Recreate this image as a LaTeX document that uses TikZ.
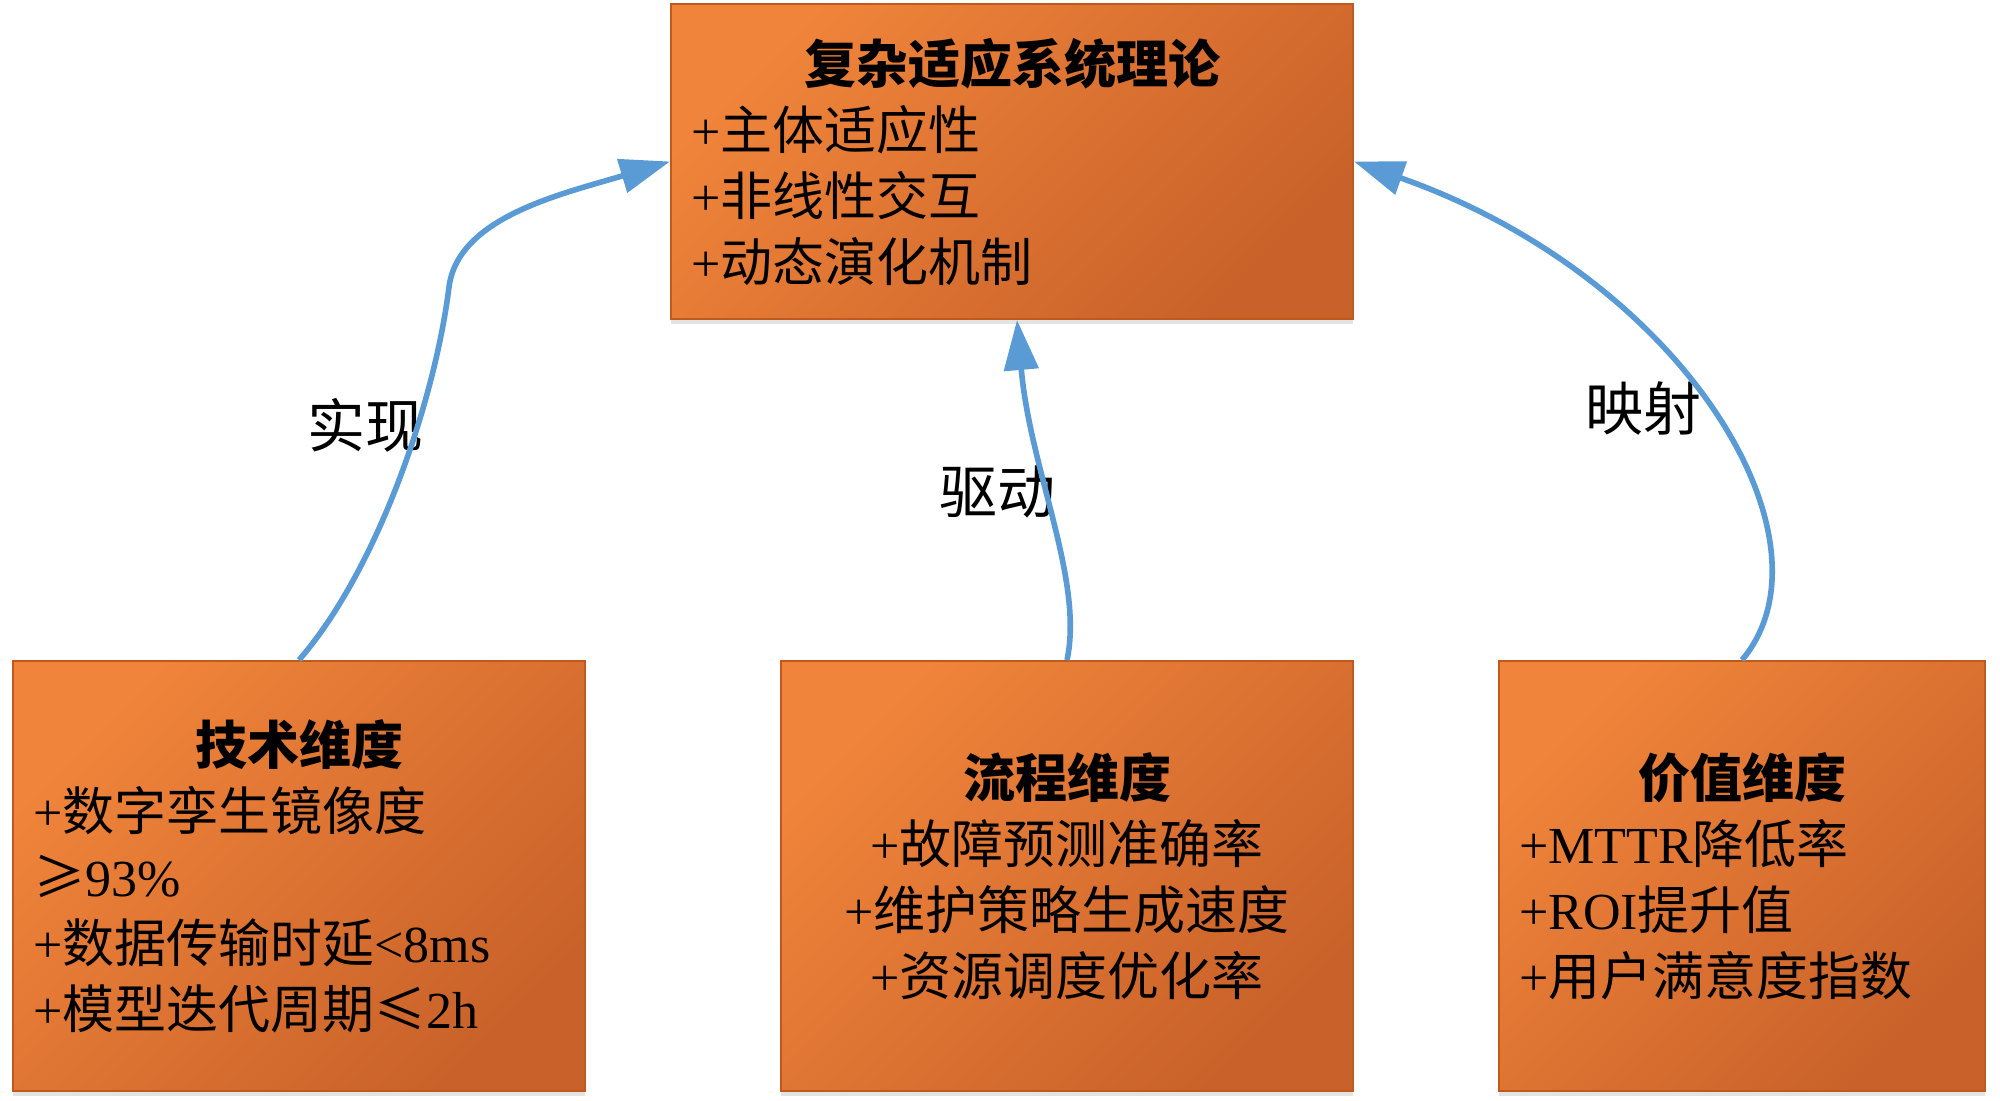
\documentclass[tikz,border=0pt]{standalone}
\usepackage{fontspec}
\setmainfont{Liberation Serif}
\newfontfamily\cjk{Noto Sans CJK SC}
\usetikzlibrary{arrows.meta,shadows}
\definecolor{oLight}{HTML}{F0843A}
\definecolor{oDark}{HTML}{C9622A}
\definecolor{oEdge}{HTML}{C05A1C}
\definecolor{aBlue}{HTML}{5B9BD5}
\newcommand\boxtitle[1]{\makebox[\hsize][c]{\cjk\bfseries #1}}
\begin{document}
\begin{tikzpicture}[x=0.5pt,y=-0.5pt,
  box/.style={draw=oEdge, line width=1pt, top color=oLight, bottom color=oDark,
    shading angle=45,
    drop shadow={shadow xshift=0pt, shadow yshift=-2.5pt, opacity=0.22},
    inner xsep=10pt, inner ysep=0pt, font=\fontsize{26}{33}\selectfont},
  arr/.style={-{Triangle[length=25pt,width=17pt]}, draw=aBlue, line width=2.8pt},
  lbl/.style={font=\cjk\fontsize{29}{33}\selectfont, inner sep=0pt}]
\fill[white] (0,0) rectangle (2000,1100);
\useasboundingbox (0,0) rectangle (2000,1100);

\node[box, minimum width=341pt, minimum height=157.5pt, text width=321pt, align=left] (theory) at (1012,161.5)
  {\boxtitle{复杂适应系统理论}\\+{\cjk 主体适应性}\\+{\cjk 非线性交互}\\+{\cjk 动态演化机制}};

\node[box, minimum width=286pt, minimum height=215pt, text width=266pt, align=left] (tech) at (299,876)
  {\boxtitle{技术维度}\\+{\cjk 数字孪生镜像度}\\{\cjk ≥}93\%\\+{\cjk 数据传输时延}<8ms\\+{\cjk 模型迭代周期≤}2h};

\node[box, minimum width=286pt, minimum height=215pt, text width=266pt, align=center] (proc) at (1067,876)
  {{\cjk\bfseries 流程维度}\\+{\cjk 故障预测准确率}\\+{\cjk 维护策略生成速度}\\+{\cjk 资源调度优化率}};

\node[box, minimum width=243pt, minimum height=215pt, text width=223pt, align=left] (value) at (1742,876)
  {\boxtitle{价值维度}\\+MTTR{\cjk 降低率}\\+ROI{\cjk 提升值}\\+{\cjk 用户满意度指数}};

\node[lbl] (l1) at (365,425) {实现};
\node[lbl] (l2) at (997,492) {驱动};
\node[lbl] (l3) at (1643,409) {映射};

\coordinate (m1) at (449,287);
\draw[arr] (tech.north) .. controls +(79,-91) and +(-14,113) .. (m1)
  .. controls +(9,-70) and +(-108,32.5) .. (theory.west);
\draw[arr] (proc.north) .. controls +(17,-80) and +(13,150) .. ([xshift=2.5pt]theory.south);
\draw[arr] (value.north) .. controls +(100,-119) and +(331,116.5) .. (theory.east);
\end{tikzpicture}
\end{document}
